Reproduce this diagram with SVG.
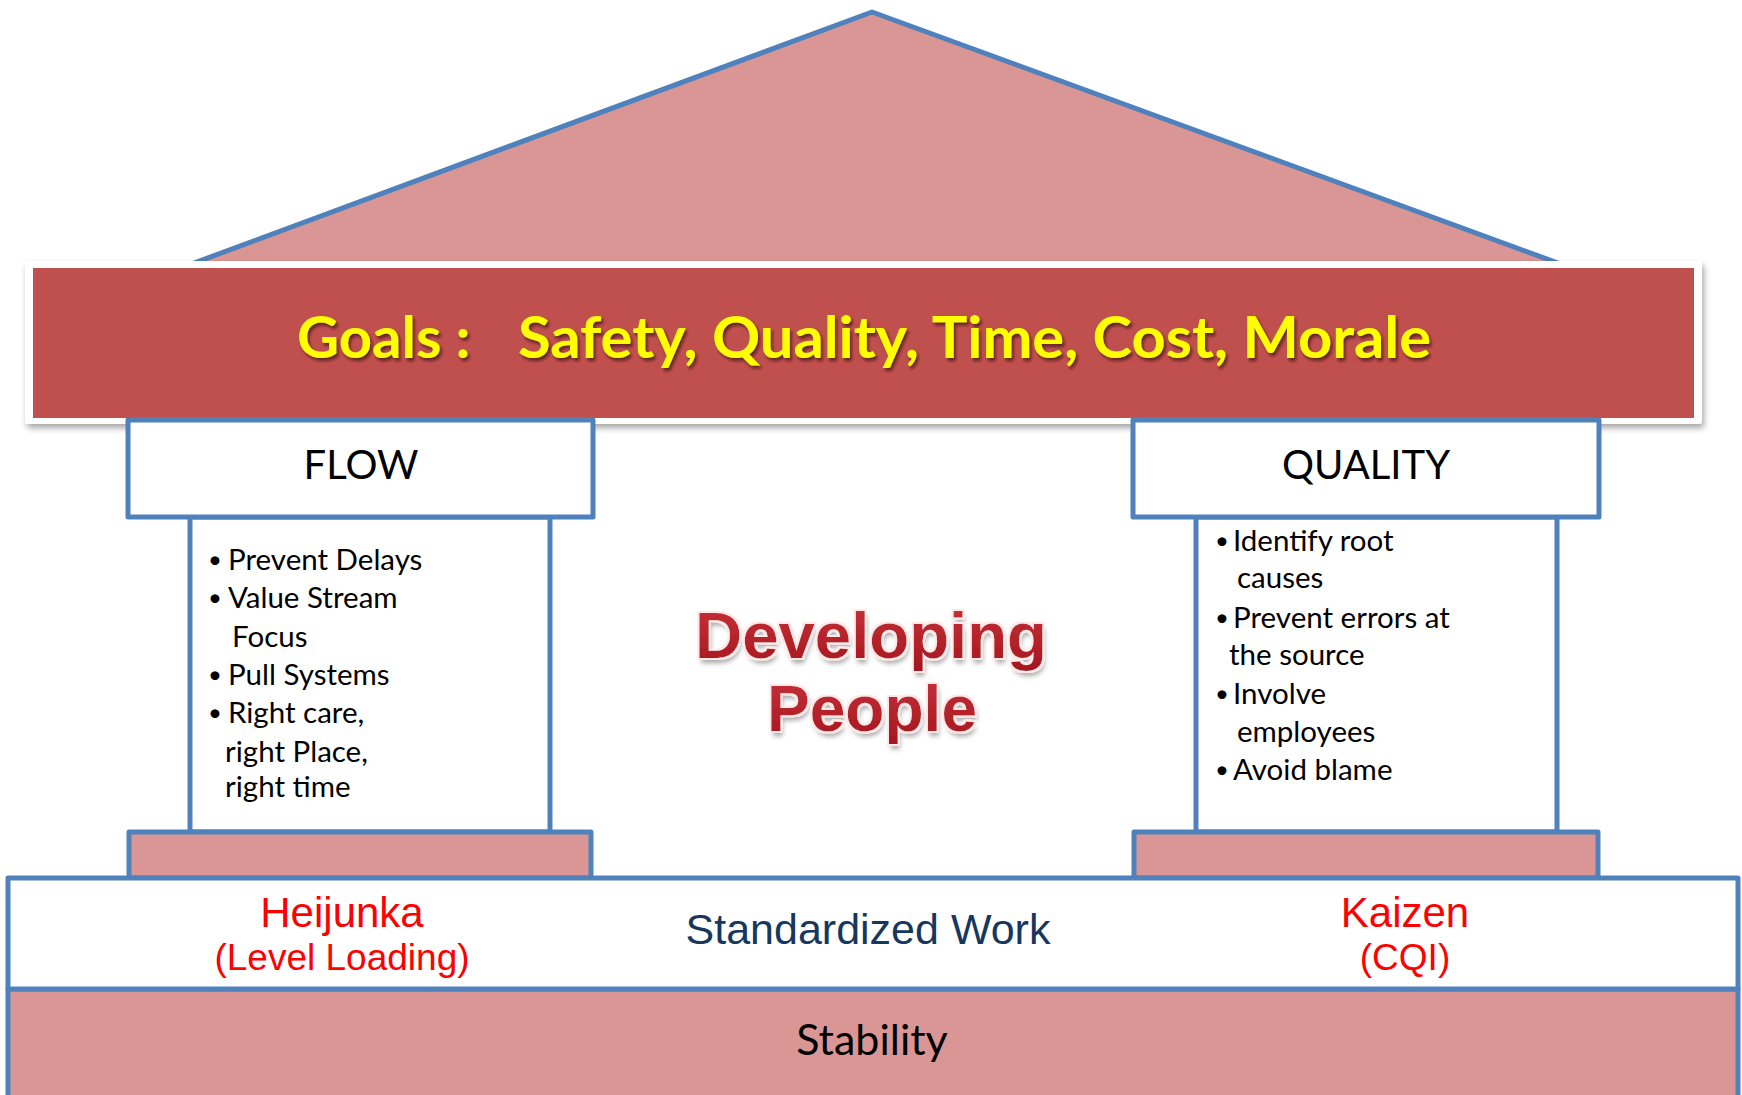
<svg xmlns="http://www.w3.org/2000/svg" width="1742" height="1095" viewBox="0 0 1742 1095">
<defs>
<style>
.blue{stroke:#4F81BD;stroke-width:5;stroke-linejoin:round}
.pink{fill:#D99694}
.cal{font-family:Lato,"Open Sans","Liberation Sans",sans-serif;fill:#000}
.ar{font-family:"Liberation Sans",Arial,sans-serif}
.red{fill:#FF0000}
.bul{font-size:29.5px}
.dot{font-size:24px}
</style>
<filter id="shadow" x="-5%" y="-20%" width="110%" height="150%">
<feDropShadow dx="2" dy="4" stdDeviation="3" flood-color="#000" flood-opacity="0.35"/>
</filter>
<filter id="tshadow" x="-5%" y="-20%" width="110%" height="150%">
<feDropShadow dx="2" dy="3" stdDeviation="1.5" flood-color="#3a0a08" flood-opacity="0.7"/>
</filter>
<filter id="dpshadow" x="-10%" y="-20%" width="120%" height="150%">
<feMorphology in="SourceAlpha" operator="dilate" radius="2" result="d"/>
<feFlood flood-color="#ffe8e8"/>
<feComposite in2="d" operator="in" result="halo"/>
<feOffset in="SourceAlpha" dx="2" dy="5" result="off"/>
<feGaussianBlur in="off" stdDeviation="2.5" result="blur"/>
<feFlood flood-color="#000" flood-opacity="0.35"/>
<feComposite in2="blur" operator="in" result="sh"/>
<feMerge><feMergeNode in="sh"/><feMergeNode in="halo"/><feMergeNode in="SourceGraphic"/></feMerge>
</filter>
<linearGradient id="dpgrad" x1="0" y1="0" x2="0" y2="1">
<stop offset="0" stop-color="#C8323A"/>
<stop offset="1" stop-color="#A5161E"/>
</linearGradient>
</defs>

<g id="roof">
<polygon class="pink" points="186,266 872,12 1566,266"/>
<polyline class="blue" fill="none" points="186,266 872,12 1566,266"/>
</g>

<g id="goals">
<rect x="25" y="261" width="1677" height="163" rx="3" fill="#fff" filter="url(#shadow)"/>
<rect x="33" y="268" width="1661" height="150" fill="#C0504D"/>
<g filter="url(#tshadow)" font-family="Lato,'Open Sans','Liberation Sans',sans-serif" font-weight="bold" font-size="58" fill="#FFFF00">
<text x="297" y="358">Goals :</text>
<text x="518" y="358" textLength="913" lengthAdjust="spacingAndGlyphs">Safety, Quality, Time, Cost, Morale</text>
</g>
</g>

<g id="flow-column">
<rect class="blue" x="190" y="517" width="360" height="315" fill="#fff"/>
<g class="cal bul">
<text class="dot" x="208" y="568">•</text><text x="228" y="570">Prevent Delays</text>
<text class="dot" x="208" y="606">•</text><text x="228" y="608">Value Stream</text>
<text x="232" y="647">Focus</text>
<text class="dot" x="208" y="683">•</text><text x="228" y="685">Pull Systems</text>
<text class="dot" x="208" y="721">•</text><text x="228" y="723">Right care,</text>
<text x="225" y="762">right Place,</text>
<text x="225" y="797">right time</text>
</g>
</g>

<g id="flow">
<rect class="blue" x="128" y="420" width="465" height="97" fill="#fff"/>
<text class="cal" x="361" y="479" font-size="40" text-anchor="middle">FLOW</text>
</g>

<g id="quality-column">
<rect class="blue" x="1196" y="517" width="361" height="315" fill="#fff"/>
<g class="cal bul">
<text class="dot" x="1215" y="549">•</text><text x="1233" y="551">Identify root</text>
<text x="1237" y="588">causes</text>
<text class="dot" x="1215" y="626">•</text><text x="1233" y="628">Prevent errors at</text>
<text x="1229" y="665">the source</text>
<text class="dot" x="1215" y="702">•</text><text x="1233" y="704">Involve</text>
<text x="1237" y="742">employees</text>
<text class="dot" x="1215" y="778">•</text><text x="1233" y="780">Avoid blame</text>
</g>
</g>

<g id="quality">
<rect class="blue" x="1133" y="420" width="466" height="97" fill="#fff"/>
<text class="cal" x="1366" y="479" font-size="40" text-anchor="middle">QUALITY</text>
</g>

<g id="developing-people" filter="url(#dpshadow)" font-family="'Liberation Sans',Arial,sans-serif" font-weight="bold" font-size="64" fill="url(#dpgrad)" text-anchor="middle">
<text x="871" y="658" textLength="352" lengthAdjust="spacingAndGlyphs">Developing</text>
<text x="872" y="731" textLength="210" lengthAdjust="spacingAndGlyphs">People</text>
</g>

<g id="flow-pedestal">
<rect class="blue pink" x="129" y="832" width="462" height="46"/>
</g>
<g id="quality-pedestal">
<rect class="blue pink" x="1134" y="832" width="464" height="46"/>
</g>

<g id="stability">
<rect class="blue pink" x="8" y="989" width="1730" height="120"/>
<text class="cal" x="872" y="1055" font-size="43" text-anchor="middle">Stability</text>
</g>

<g id="standardized-work">
<rect class="blue" x="8" y="878" width="1730" height="111" fill="#fff"/>
<text class="ar" x="868" y="944" font-size="43" fill="#17375E" text-anchor="middle">Standardized Work</text>
</g>

<g id="heijunka">
<text class="ar red" x="342" y="927" font-size="42" text-anchor="middle">Heijunka</text>
<text class="ar red" x="342" y="970" font-size="37" text-anchor="middle">(Level Loading)</text>
</g>

<g id="kaizen">
<text class="ar red" x="1405" y="927" font-size="42" text-anchor="middle">Kaizen</text>
<text class="ar red" x="1405" y="970" font-size="37" text-anchor="middle">(CQI)</text>
</g>

<g id="connectors"></g>
</svg>
